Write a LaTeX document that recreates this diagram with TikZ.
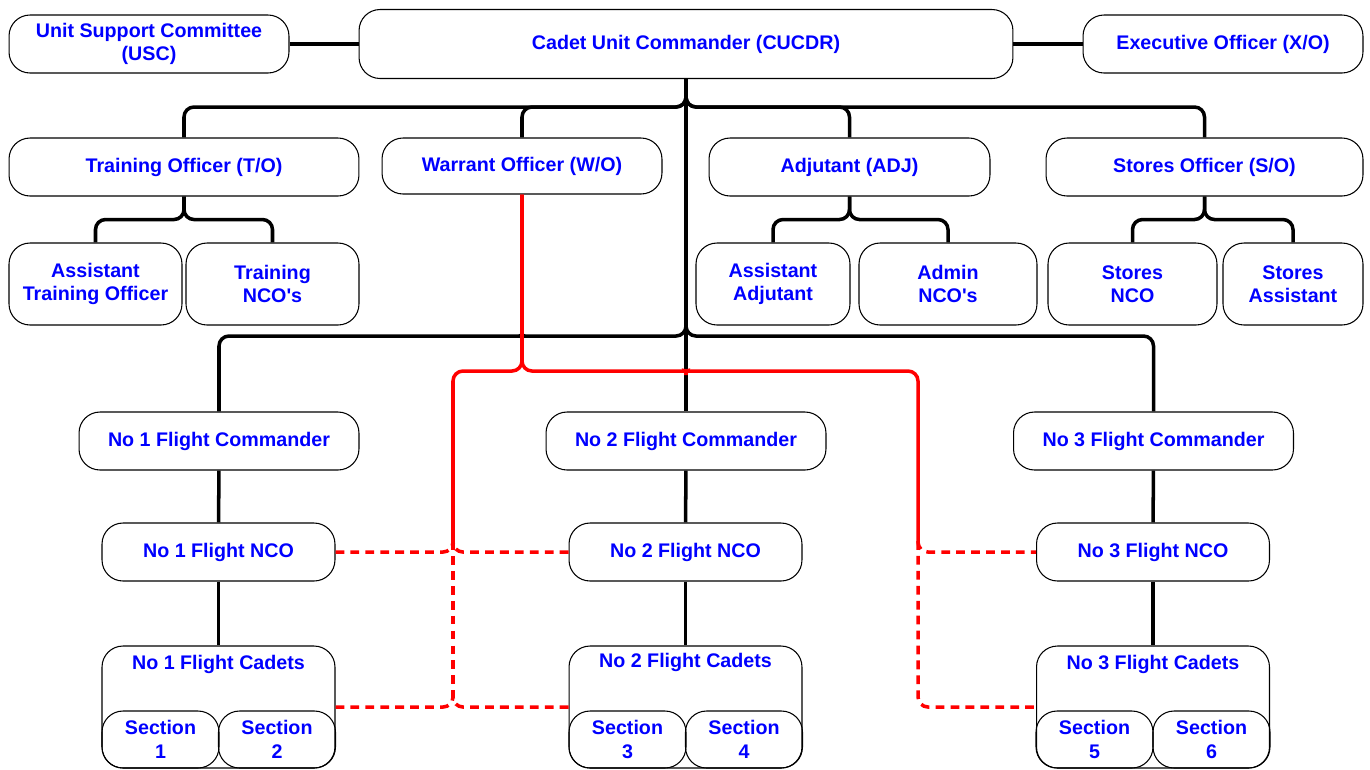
\documentclass[tikz,border=0pt]{standalone}
\usepackage{fontspec}
\setmainfont{Liberation Sans}
\begin{document}
\begin{tikzpicture}[x=0.02cm,y=-0.02cm,
    font=\fontsize{11.2}{13.4}\selectfont\bfseries]
  \useasboundingbox (0,0) rectangle (1370,769);

  \begin{scope}[every node/.style={draw,line width=0.6pt,rounded corners=0.42cm,
      text=blue,align=center,inner sep=1pt,minimum height=1.16cm}]
    \node[minimum width=5.6cm] (usc) at (149,44) {Unit Support Committee\\(USC)};
    \node[minimum width=13.08cm,minimum height=1.38cm] (cucdr) at (686,44) {Cadet Unit Commander (CUCDR)};
    \node[minimum width=5.6cm] (xo) at (1223,44) {Executive Officer (X/O)};

    \node[minimum width=7cm] (to) at (184,167) {Training Officer (T/O)};
    \node[minimum width=5.6cm,minimum height=1.12cm] (wo) at (522,166) {Warrant Officer (W/O)};
    \node[minimum width=5.62cm] (adj) at (849.5,167) {Adjutant (ADJ)};
    \node[minimum width=6.34cm] (so) at (1204.5,167) {Stores Officer (S/O)};

    \node[minimum width=3.46cm,minimum height=1.64cm] (ato) at (95.5,284) {Assistant\\Training Officer};
    \node[minimum width=3.46cm,minimum height=1.64cm] (tnco) at (272.5,284) {Training\\NCO\textquotesingle s};
    \node[minimum width=3.08cm,minimum height=1.64cm] (aadj) at (773,284) {Assistant\\Adjutant};
    \node[minimum width=3.56cm,minimum height=1.64cm] (anco) at (948,284) {Admin\\NCO\textquotesingle s};
    \node[minimum width=3.38cm,minimum height=1.64cm] (snco) at (1132.5,284) {Stores\\NCO};
    \node[minimum width=2.8cm,minimum height=1.64cm] (sa) at (1293,284) {Stores\\Assistant};

    \node[minimum width=5.6cm] (fc1) at (219,441) {No 1 Flight Commander};
    \node[minimum width=5.6cm] (fc2) at (686,441) {No 2 Flight Commander};
    \node[minimum width=5.6cm] (fc3) at (1153.5,441) {No 3 Flight Commander};

    \node[minimum width=4.66cm] (nco1) at (218.5,552) {No 1 Flight NCO};
    \node[minimum width=4.66cm] (nco2) at (685.5,552) {No 2 Flight NCO};
    \node[minimum width=4.66cm] (nco3) at (1153,552) {No 3 Flight NCO};

    \node[minimum width=4.66cm,minimum height=2.44cm] (cad1) at (218.5,707) {};
    \node[minimum width=4.66cm,minimum height=2.44cm] (cad2) at (685.5,707) {};
    \node[minimum width=4.66cm,minimum height=2.44cm] (cad3) at (1153,707) {};

    \node[minimum width=2.34cm,minimum height=1.14cm] (sec1) at (160.5,739.5) {Section\\1};
    \node[minimum width=2.34cm,minimum height=1.14cm] (sec2) at (277,739.5) {Section\\2};
    \node[minimum width=2.34cm,minimum height=1.14cm] (sec3) at (627.5,739.5) {Section\\3};
    \node[minimum width=2.34cm,minimum height=1.14cm] (sec4) at (744,739.5) {Section\\4};
    \node[minimum width=2.34cm,minimum height=1.14cm] (sec5) at (1094.5,739.5) {Section\\5};
    \node[minimum width=2.34cm,minimum height=1.14cm] (sec6) at (1211.5,739.5) {Section\\6};
  \end{scope}

  \begin{scope}[every node/.style={text=blue}]
    \node (cad1t) at (218.5,664) {No 1 Flight Cadets};
    \node (cad2t) at (685.5,662) {No 2 Flight Cadets};
    \node (cad3t) at (1153,664) {No 3 Flight Cadets};
  \end{scope}

  \coordinate (top hub) at (686,107);
  \coordinate (flight hub) at (686,336);
  \coordinate (wo hub) at (522,371);
  \coordinate (left drop) at (453,541);
  \coordinate (left foot) at (453,697);
  \coordinate (right drop) at (918,541);

  % chain of command
  \begin{scope}[line width=2pt,rounded corners=0.2cm]
    \draw (usc.east) -- (usc.east -| cucdr.west);
    \draw (cucdr.east) -- (cucdr.east -| xo.west);
    \draw (cucdr.south) -- (top hub) -| (to.north);
    \draw (cucdr.south) -- (top hub) -| (wo.north);
    \draw (cucdr.south) -- (top hub) -| (adj.north);
    \draw (cucdr.south) -- (top hub) -| (so.north);
    \draw (to.south) -- ++(0,23) -| (ato.north);
    \draw (to.south) -- ++(0,23) -| (tnco.north);
    \draw (adj.south) -- ++(0,23) -| (aadj.north);
    \draw (adj.south) -- ++(0,23) -| (anco.north);
    \draw (so.south) -- ++(0,23) -| (snco.north);
    \draw (so.south) -- ++(0,23) -| (sa.north);
    \draw (cucdr.south) -- (fc2.north);
    \draw (cucdr.south) -- (flight hub) -- (533,336)
      .. controls (526,336) and (522,334) .. (522,329)
      .. controls (522,334) and (518,336) .. (511,336) -| (fc1.north);
    \draw (cucdr.south) -- (flight hub) -| (fc3.north);
    \draw (fc1) -- (nco1);
    \draw (fc2) -- (nco2);
    \draw (fc3) -- (nco3);
    \draw (nco1) -- (cad1);
    \draw (nco2) -- (cad2);
    \draw (nco3) -- (cad3);
  \end{scope}

  % warrant officer lines
  \begin{scope}[red,line width=2pt,rounded corners=0.2cm]
    \draw (wo.south) -- (wo hub) -| (left drop);
    \draw (wo.south) -- (wo hub) -- (677,371)
      .. controls (683,371) and (686,369) .. (686,365)
      .. controls (686,369) and (689,371) .. (695,371) -| (right drop);
    \begin{scope}[dash pattern=on 5pt off 3.5pt]
      \draw (nco1.east) -| (left drop);
      \draw (nco2.west) -| (left drop);
      \draw (left drop) -- (left foot);
      \draw (cad1.east) -| (left foot);
      \draw (cad2.west) -| (left foot);
      \draw (right drop) |- (nco3.west);
      \draw (right drop) |- (cad3.west);
    \end{scope}
  \end{scope}
\end{tikzpicture}
\end{document}
